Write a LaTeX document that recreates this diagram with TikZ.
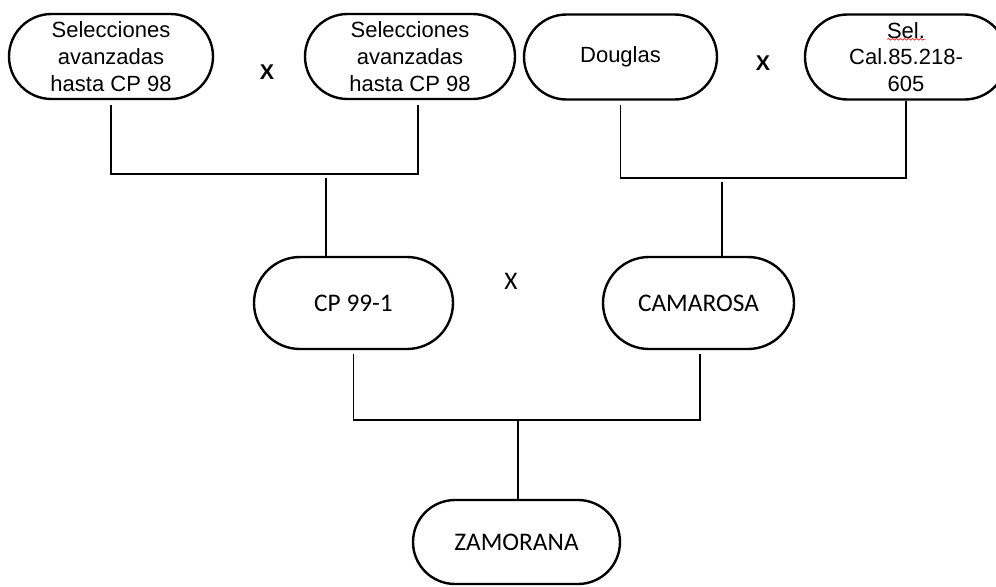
\documentclass[tikz,border=0pt]{standalone}
\usepackage{fontspec}
\setmainfont{Liberation Sans}
\newfontfamily\calibri{Carlito}
\usetikzlibrary{shapes.misc,decorations.pathmorphing}

\tikzstyle{parent}=[rounded rectangle, draw=black, line width=1.8pt, inner sep=0pt, align=center, font=\fontsize{16.5}{20}\selectfont]
\tikzstyle{child}=[parent, font=\calibri\fontsize{19}{22}\selectfont]
\tikzstyle{link}=[line width=1.1pt]
\definecolor{Spell}{HTML}{E03030}

\begin{document}
\begin{tikzpicture}[x=0.75pt, y=-0.75pt]
      \useasboundingbox (0,0) rectangle (996,586);
      \node (parent-1) at (111,56.5) [parent, minimum width=153pt, minimum height=63.75pt] {Selecciones\\avanzadas\\hasta CP 98};
      \node (parent-2) at (410,56.5) [parent, minimum width=157.5pt, minimum height=63.75pt] {Selecciones\\avanzadas\\hasta CP 98};
      \node (parent-3) at (620.5,57) [parent, minimum width=144.75pt, minimum height=63.75pt] {Douglas};
      \node (parent-4) at (906,57) [parent, minimum width=151.5pt, minimum height=63.75pt] {Sel.\\Cal.85.218-\\605};

      \node (cross-1) at (267,72) [font=\bfseries\fontsize{16}{19}\selectfont] {X};
      \node (cross-2) at (763,63) [font=\bfseries\fontsize{16}{19}\selectfont] {X};
      \node (cross-3) at (511,281) [font=\calibri\fontsize{19}{22}\selectfont] {X};

      \node (child-1) at (353.5,303) [child, minimum width=149.25pt, minimum height=69pt] {CP 99-1};
      \node (child-2) at (698.5,303) [child, minimum width=143.25pt, minimum height=69pt] {CAMAROSA};
      \node (child-3) at (516.5,542) [child, minimum width=155.25pt, minimum height=63pt] {ZAMORANA};

      \draw[Spell, line width=0.6pt, decorate, decoration={snake, amplitude=0.6pt, segment length=3pt}] ([xshift=-14pt, yshift=-19.5pt]parent-4.north) -- ++(38,0);

      \coordinate (bar-1) at (326,174);
      \coordinate (bar-2) at (722,178);
      \coordinate (bar-3) at (518,420);
      \draw[link] ([yshift=-3.5pt]parent-1.south) |- (bar-1) -| ([xshift=6pt, yshift=-3.5pt]parent-2.south);
      \draw[link] ([yshift=-3pt]bar-1) -- (child-1.north -| bar-1);
      \draw[link] ([yshift=-3pt]parent-3.south) |- (bar-2) -| (parent-4.south);
      \draw[link] ([yshift=-3pt]bar-2) -- (child-2.north -| bar-2);
      \draw[link] ([yshift=-3pt]child-1.south) |- (bar-3) -| ([xshift=1pt, yshift=-3pt]child-2.south);
      \draw[link] (bar-3) -- (child-3.north -| bar-3);
\end{tikzpicture}
\end{document}
